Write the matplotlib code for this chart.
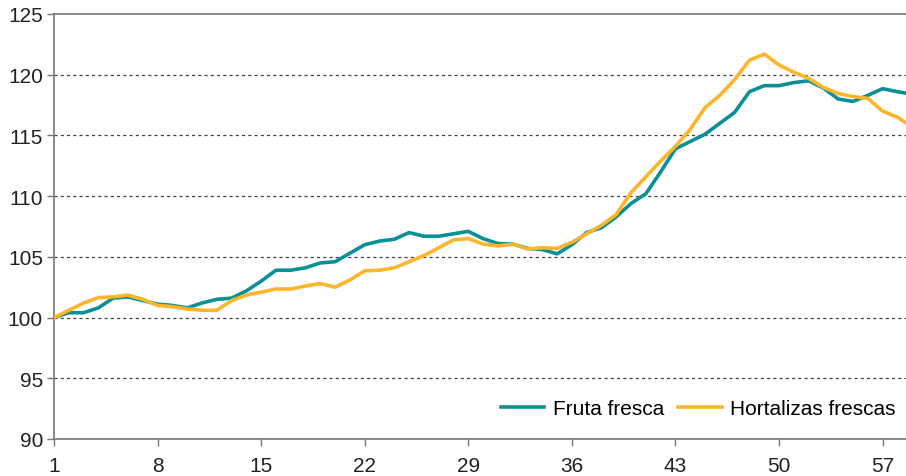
import matplotlib.pyplot as plt
import numpy as np

plt.rcParams['font.family'] = ['Liberation Sans', 'DejaVu Sans']

semanas = np.arange(1, 60)
fruta = [100.0, 100.4, 100.4, 100.8, 101.6, 101.7, 101.4, 101.1, 101.0, 100.8,
         101.2, 101.5, 101.6, 102.2, 103.0, 103.9, 103.9, 104.1, 104.5, 104.6,
         105.3, 106.0, 106.3, 106.45, 107.0, 106.7, 106.7, 106.9, 107.1, 106.5,
         106.1, 106.05, 105.7, 105.6, 105.25, 106.0, 107.0, 107.4, 108.3, 109.4,
         110.2, 112.0, 113.9, 114.5, 115.1, 116.0, 116.9, 118.6, 119.1, 119.1,
         119.35, 119.5, 118.9, 118.0, 117.8, 118.3, 118.85, 118.6, 118.4]
hortalizas = [100.0, 100.6, 101.2, 101.65, 101.7, 101.85, 101.5, 101.0, 100.9, 100.7,
              100.6, 100.6, 101.4, 101.85, 102.1, 102.35, 102.35, 102.6, 102.8, 102.5,
              103.1, 103.85, 103.9, 104.1, 104.6, 105.1, 105.75, 106.4, 106.5, 106.05,
              105.9, 106.05, 105.65, 105.75, 105.7, 106.2, 106.9, 107.6, 108.5, 110.3,
              111.6, 112.9, 114.1, 115.5, 117.3, 118.3, 119.6, 121.2, 121.7, 120.8,
              120.2, 119.7, 118.95, 118.45, 118.2, 118.05, 117.0, 116.5, 115.7]
xticks = [1, 8, 15, 22, 29, 36, 43, 50, 57]
yticks = [90, 95, 100, 105, 110, 115, 120, 125]

fig = plt.figure(figsize=(9.06, 4.77), dpi=100)
ax = fig.add_axes([54 / 906, 1 - 440 / 477, 1 - 54 / 906, 425 / 477])

# rejilla discontinua
for y in yticks[1:-1]:
    ax.axhline(y, color='#444444', lw=0.9, ls=(0, (2.5, 2.5)), zorder=1)

ax.plot(semanas, fruta, color='#0C9097', lw=2.6, label='Fruta fresca', zorder=3)
ax.plot(semanas, hortalizas, color='#FDB62B', lw=2.6, label='Hortalizas frescas', zorder=3)

ax.set_xlim(1, 58.58)
ax.set_ylim(90, 125)
ax.set_xticks(xticks)
ax.set_yticks(yticks)
ax.tick_params(axis='both', direction='out', length=5, width=1, color='#777777',
               labelsize=15, labelcolor='#222222')
ax.tick_params(axis='x', pad=7)
ax.tick_params(axis='y', pad=3)

for s in ['left', 'bottom', 'top']:
    ax.spines[s].set_color('#777777')
    ax.spines[s].set_linewidth(1.2)
ax.spines['right'].set_visible(False)

ax.legend(loc='center right', bbox_to_anchor=(0.998, 0.0706), ncol=2, frameon=False,
          fontsize=15, handlelength=2.07, handletextpad=0.43, columnspacing=0.67,
          borderaxespad=0)

fig.savefig('out.png', dpi=100)
